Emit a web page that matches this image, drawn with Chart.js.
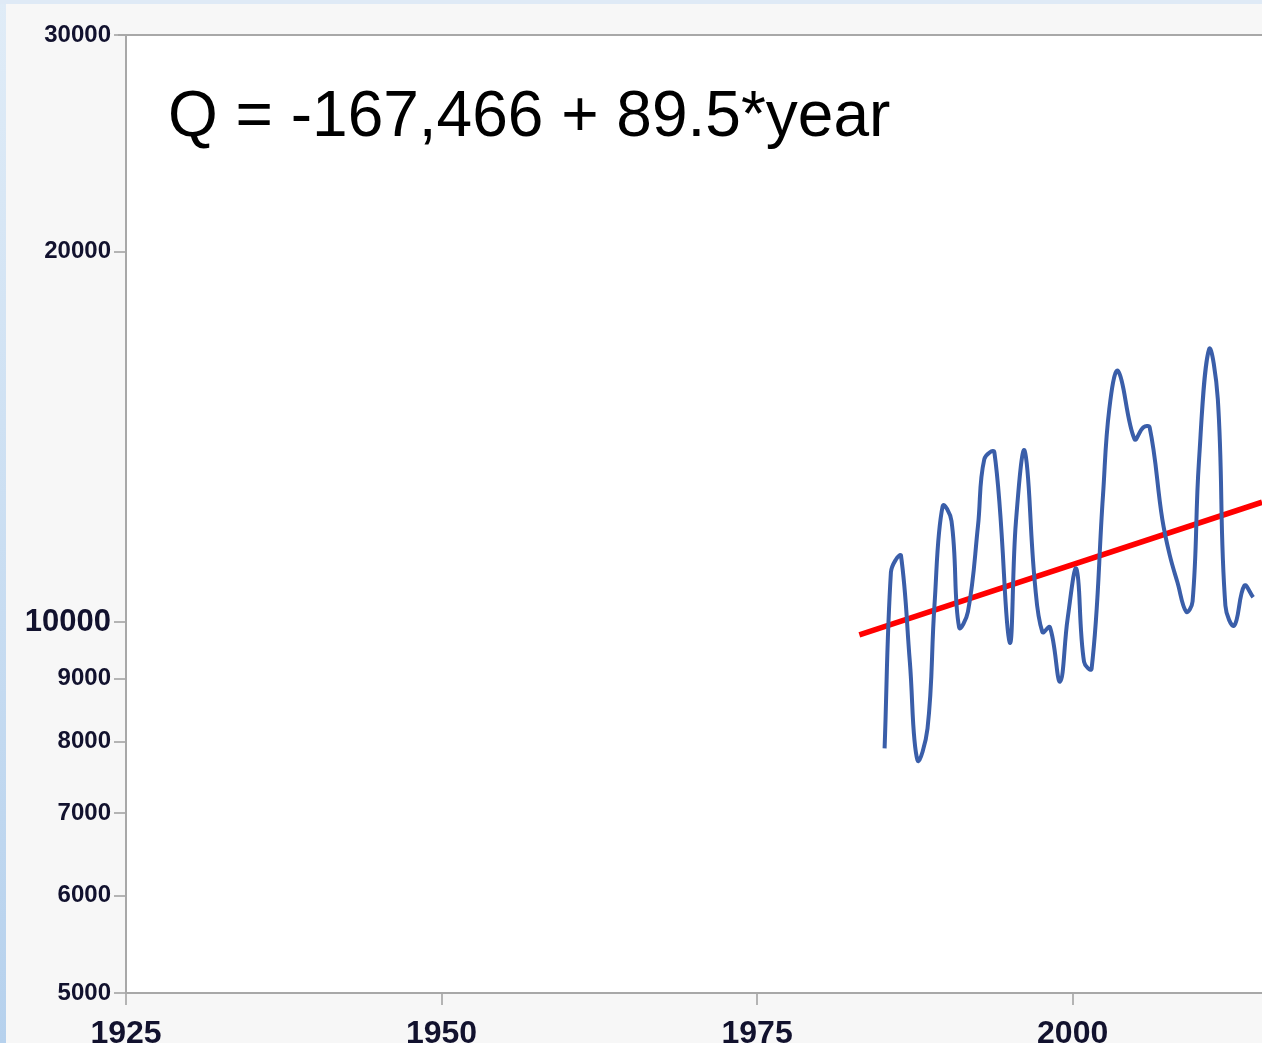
<!DOCTYPE html>
<html>
<head>
<meta charset="utf-8">
<script src="https://cdn.jsdelivr.net/npm/chart.js@4"></script>
<style>
html,body{margin:0;padding:0;background:#f7f7f7;overflow:hidden;}
#wrap{width:1262px;height:1043px;}
</style>
</head>
<body>
<div id="wrap"><canvas id="c" width="1262" height="1043"></canvas></div>
<script>
// flow (year, Q)
const years=[1985.1,1985.6,1986.0,1986.4,1987.1,1987.7,1988.5,1989.05,1989.7,1990.4,1991.0,1991.7,1992.5,1993.0,1993.8,1995.0,1995.5,1996.2,1997.0,1997.6,1998.2,1999.0,1999.6,2000.3,2000.9,2001.5,2002.4,2002.9,2003.6,2004.9,2005.6,2006.1,2007.1,2007.7,2008.3,2009.0,2009.5,2010.0,2010.8,2011.5,2012.1,2012.8,2013.6,2014.3];
const flow=[7900,10980,11250,11330,9290,7730,8200,10320,12430,12090,9910,10200,11980,13570,13740,9640,12050,13780,10780,9820,9910,8950,10070,11050,9290,9170,12670,14900,16000,14090,14400,14400,12130,11330,10780,10200,10400,13490,16660,15180,10320,9940,10710,10480];
const trendYears=[1983.1,2015];
const trendFlow=[9770,12520];
const yTicks=[5000,6000,7000,8000,9000,10000,20000,30000];
const xTicks=[1925,1950,1975,2000];
const equation="Q = -167,466 + 89.5*year";

const tickFont='"Liberation Sans",Arial,sans-serif';

const bgPlugin={
id:'bg',
beforeDraw(chart){
let ctx=chart.ctx;
let a=chart.chartArea;
ctx.save();
ctx.fillStyle='#f7f7f7';
ctx.fillRect(0,0,chart.width,chart.height);
let g=ctx.createLinearGradient(0,0,0,chart.height);
g.addColorStop(0,'#e0ecf7');
g.addColorStop(1,'#b6d1ed');
ctx.fillStyle=g;
ctx.fillRect(0,0,6,chart.height);
ctx.fillStyle='#dfeaf6';
ctx.fillRect(0,0,chart.width,4);
ctx.fillStyle='#ffffff';
ctx.fillRect(a.left,a.top,a.right-a.left,a.bottom-a.top);
ctx.restore();
},
afterDraw(chart){
let ctx=chart.ctx;
let a=chart.chartArea;
ctx.save();
ctx.strokeStyle='#a8a8a8';
ctx.lineWidth=2;
ctx.beginPath();
ctx.moveTo(a.left-8,a.top);
ctx.lineTo(a.right,a.top);
ctx.stroke();
ctx.fillStyle='#000000';
ctx.font='64px "Liberation Sans",Arial,sans-serif';
ctx.textBaseline='alphabetic';
ctx.fillText(equation,168,136);
ctx.restore();
}
};

new Chart(document.getElementById("c"),{
type:'line',
data:{
datasets:[{
data:years.map((x,i)=>({x:x,y:flow[i]})),
borderColor:'#3a5ea9',
borderWidth:4,
pointRadius:0,
tension:0.4
},{
data:trendYears.map((x,i)=>({x:x,y:trendFlow[i]})),
borderColor:'#ff0000',
borderWidth:5.5,
pointRadius:0
}]
},
options:{
responsive:false,
animation:false,
layout:{padding:{top:35,left:0,right:0,bottom:0}},
plugins:{legend:{display:false},tooltip:{enabled:false}},
scales:{
x:{
type:'linear',
min:1925,
max:2015,
afterBuildTicks:s=>{s.ticks=xTicks.map(v=>({value:v}));},
afterFit:s=>{s.height=50;},
ticks:{font:{family:tickFont,size:32,weight:'bold'},color:'#12122e',padding:10,maxRotation:0,autoSkip:false,callback:v=>String(v)},
grid:{drawOnChartArea:false,tickLength:12,color:'#b4b4b4',lineWidth:2},
border:{color:'#a8a8a8',width:2}
},
y:{
type:'logarithmic',
min:5000,
max:30000,
afterBuildTicks:s=>{s.ticks=yTicks.map(v=>({value:v}));},
afterFit:s=>{s.width=126;},
ticks:{
font:c=>(c.tick&&c.tick.value===10000)?{family:tickFont,size:31,weight:'bold'}:{family:tickFont,size:24,weight:'bold'},
color:'#12122e',padding:3,autoSkip:false,callback:v=>String(v)
},
grid:{drawOnChartArea:false,tickLength:12,color:'#b4b4b4',lineWidth:2},
border:{color:'#a8a8a8',width:2}
}
}
},
plugins:[bgPlugin]
});
</script>
</body>
</html>
